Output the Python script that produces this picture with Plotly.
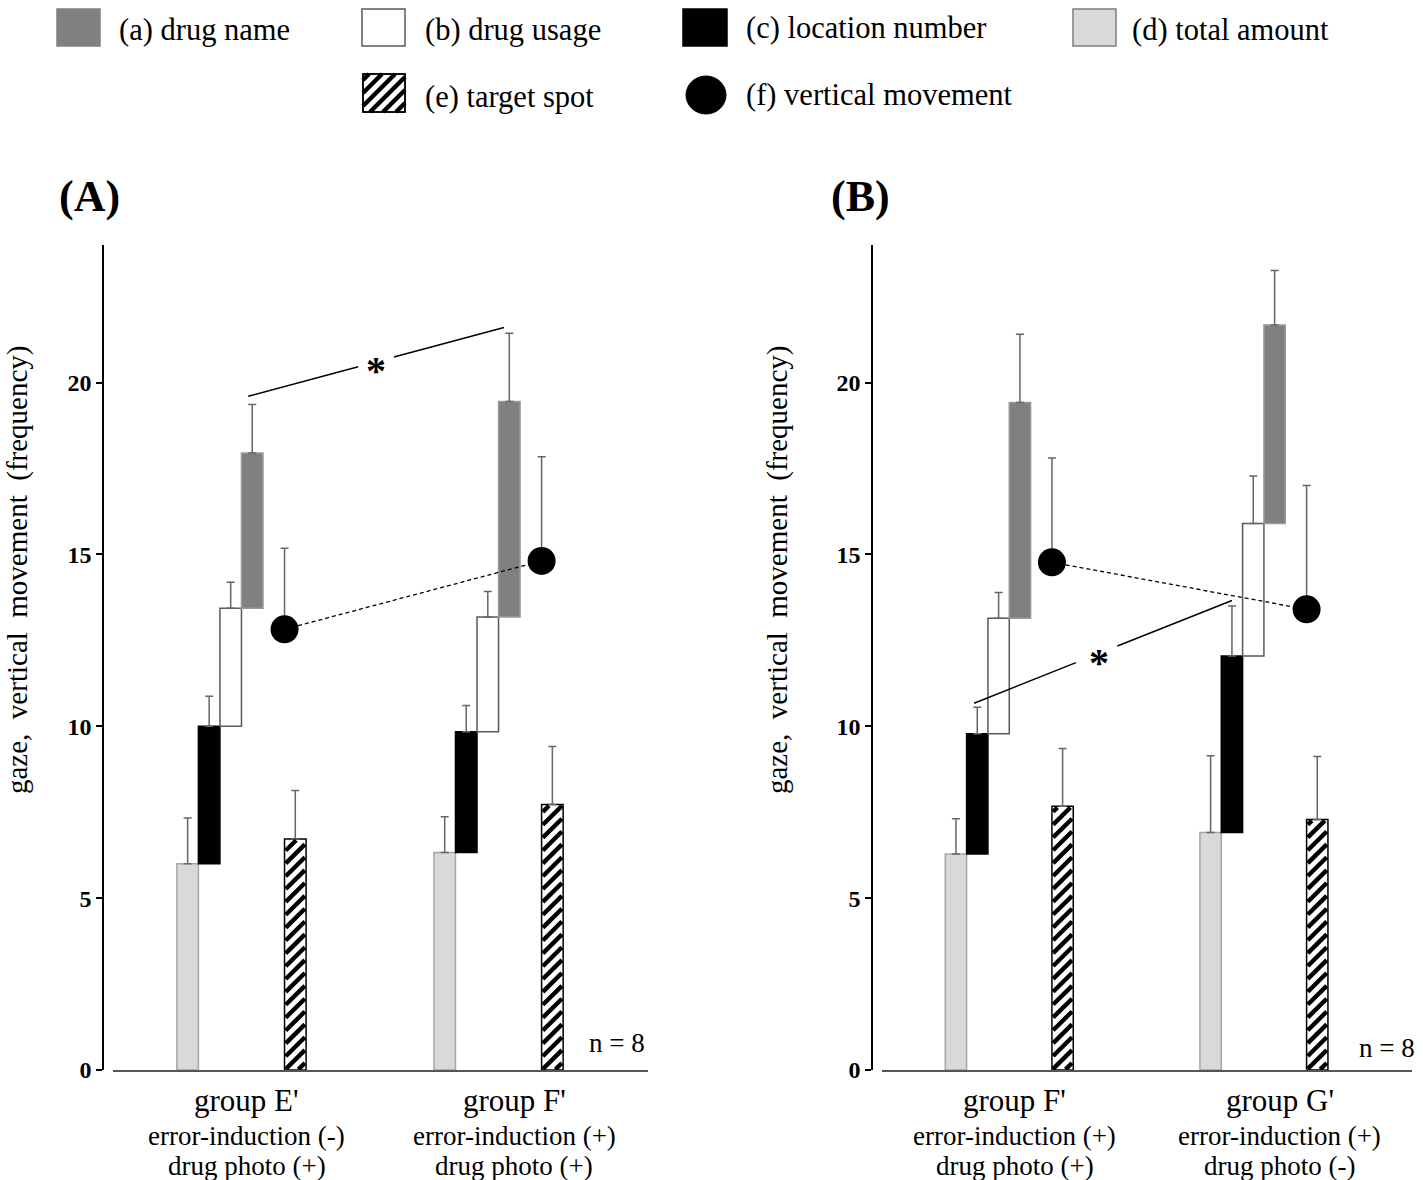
import plotly.graph_objects as go

W, H = 1423, 1180
FONT = "Liberation Serif"

# ---------------- data ----------------
groups_A = ["group E'", "group F'"]
cond1_A = ["error-induction (-)", "error-induction (+)"]
cond2_A = ["drug photo (+)", "drug photo (+)"]
groups_B = ["group F'", "group G'"]
cond1_B = ["error-induction (+)", "error-induction (+)"]
cond2_B = ["drug photo (+)", "drug photo (-)"]

legend_labels = ["(a) drug name", "(b) drug usage", "(c) location number",
                 "(d) total amount", "(e) target spot", "(f) vertical movement"]

# cumulative gaze frequencies (top of each floating bar) and SE
total_A = [6.00, 6.33];      total_err_A = [1.33, 1.04]
location_A = [10.00, 9.84];  location_err_A = [0.87, 0.76]
usage_A = [13.43, 13.18];    usage_err_A = [0.76, 0.74]
name_A = [17.95, 19.45];     name_err_A = [1.41, 1.98]
target_A = [6.72, 7.72];     target_err_A = [1.41, 1.69]
vertical_A = [12.82, 14.81]; vertical_err_A = [2.36, 3.03]

total_B = [6.28, 6.91];      total_err_B = [1.03, 2.23]
location_B = [9.78, 12.04];  location_err_B = [0.77, 1.46]
usage_B = [13.14, 15.90];    usage_err_B = [0.75, 1.38]
name_B = [19.42, 21.67];     name_err_B = [1.98, 1.59]
target_B = [7.67, 7.29];     target_err_B = [1.68, 1.83]
vertical_B = [14.77, 13.40]; vertical_err_B = [3.03, 3.60]

sig_A = [19.6, 21.6]   # significance bracket ends (drug name, E' vs F')
sig_B = [10.67, 13.66] # significance bracket ends (location number, F' vs G')

y_ticks = [0, 5, 10, 15, 20]
n_label = "n = 8"

# ---------------- layout helpers ----------------
GROUP_BASE = [-0.221, 0.740]
SLOT = 0.0805
BARW = 0.0805
KY = 1180 / 1167.0   # compensation for vertical screenshot scaling
Y_MAX = 24
PLOT_TOP, PLOT_BOT = 245, 1070
PANEL_X = {"x": (113, 648), "x2": (882, 1412)}


def xpos(g, slot):
    return GROUP_BASE[g] + slot * SLOT


def fx(p):
    return p / W


def fy(p):
    return 1 - p * KY / H


fig = go.Figure()
shapes = []
annotations = []

ERR = dict(type="data", symmetric=False, color="#666666", thickness=1.5, width=4)


def hatch(xa, ya, xc, top, period=13.0, lw=4.4):
    """Diagonal '/' hatch lines clipped inside a bar (computed in pixel space)."""
    L, R = PANEL_X[xa]
    ppx = (R - L) / 2.0
    ppy = (PLOT_BOT - PLOT_TOP) * KY / Y_MAX
    X0, X1 = (xc - BARW / 2) * ppx + 1.2, (xc + BARW / 2) * ppx - 1.2
    Y0, Y1 = 0.6, top * ppy - 1.2
    k = Y0 - X1 + period * 0.5
    while k < Y1 - X0:
        a = max(X0, Y0 - k)
        b = min(X1, Y1 - k)
        if b > a:
            shapes.append(dict(type="line", xref=xa, yref=ya,
                               x0=a / ppx, y0=(a + k) / ppy, x1=b / ppx, y1=(b + k) / ppy,
                               line=dict(color="#000", width=lw)))
        k += period


def add_panel(xa, ya, total, total_err, location, location_err, usage, usage_err,
              name, name_err, target, target_err, vertical, vertical_err):
    xs = lambda slot: [xpos(g, slot) for g in range(2)]
    stack = [
        (total, [0, 0], total_err, 0, "#d9d9d9", "#a6a6a6"),
        (location, total, location_err, 1, "#000000", "#000000"),
        (usage, location, usage_err, 2, "#ffffff", "#595959"),
        (name, usage, name_err, 3, "#808080", "#9a9a9a"),
    ]
    for top, base, err, slot, fill, line in stack:
        fig.add_trace(go.Bar(
            x=xs(slot), y=[t - b for t, b in zip(top, base)], base=base,
            width=BARW, marker=dict(color=fill, line=dict(color=line, width=1.5)),
            xaxis=xa, yaxis=ya, showlegend=False, hoverinfo="skip"))
        fig.add_trace(go.Scatter(
            x=xs(slot), y=top, mode="markers", marker=dict(size=1, opacity=0),
            error_y=dict(array=err, arrayminus=[0, 0], **ERR),
            xaxis=xa, yaxis=ya, showlegend=False, hoverinfo="skip"))
    # target spot (hatched)
    fig.add_trace(go.Bar(
        x=xs(5), y=target, width=BARW,
        marker=dict(color="#ffffff", line=dict(color="#000000", width=1.5)),
        xaxis=xa, yaxis=ya, showlegend=False, hoverinfo="skip"))
    for xc, t in zip(xs(5), target):
        hatch(xa, ya, xc, t)
    fig.add_trace(go.Scatter(
        x=xs(5), y=target, mode="markers", marker=dict(size=1, opacity=0),
        error_y=dict(array=target_err, arrayminus=[0, 0], **ERR),
        xaxis=xa, yaxis=ya, showlegend=False, hoverinfo="skip"))
    # vertical movement
    fig.add_trace(go.Scatter(
        x=xs(4.5), y=vertical, mode="lines+markers",
        line=dict(color="#000000", width=1.3, dash="4px,3px"),
        marker=dict(size=28, color="#000000"),
        error_y=dict(array=vertical_err, arrayminus=[0, 0], **ERR),
        xaxis=xa, yaxis=ya, showlegend=False, hoverinfo="skip"))


add_panel("x", "y", total_A, total_err_A, location_A, location_err_A, usage_A, usage_err_A,
          name_A, name_err_A, target_A, target_err_A, vertical_A, vertical_err_A)
add_panel("x2", "y2", total_B, total_err_B, location_B, location_err_B, usage_B, usage_err_B,
          name_B, name_err_B, target_B, target_err_B, vertical_B, vertical_err_B)

ydom = [fy(PLOT_BOT), fy(PLOT_TOP)]
xaxis_common = dict(range=[-0.5, 1.5], showline=True, linecolor="#555555", linewidth=1.5,
                    showticklabels=False, ticks="", showgrid=False, zeroline=False)
yaxis_common = dict(range=[0, Y_MAX], domain=ydom, showline=True, linecolor="#000000",
                    linewidth=1.5, ticks="outside", ticklen=6, tickcolor="#000000",
                    tickwidth=1.5, tickvals=y_ticks, showgrid=False, zeroline=False,
                    tickfont=dict(family=FONT, size=24, color="#000000", weight="bold"),
                    anchor="free")

fig.update_layout(
    width=W, height=H, autosize=False,
    margin=dict(l=0, r=0, t=0, b=0),
    paper_bgcolor="white", plot_bgcolor="rgba(0,0,0,0)",
    barmode="overlay", showlegend=False,
    xaxis=dict(domain=[fx(PANEL_X["x"][0]), fx(PANEL_X["x"][1])], anchor="y", **xaxis_common),
    yaxis=dict(position=fx(103), **yaxis_common),
    xaxis2=dict(domain=[fx(PANEL_X["x2"][0]), fx(PANEL_X["x2"][1])], anchor="y2", **xaxis_common),
    yaxis2=dict(position=fx(872), **yaxis_common),
)


def note(x, y, text, size, xref="paper", yref="paper", **kw):
    d = dict(x=x, y=y, xref=xref, yref=yref, text=text, showarrow=False,
             xanchor=kw.pop("xanchor", "center"), yanchor=kw.pop("yanchor", "middle"),
             font=dict(family=FONT, size=size, color="#000", weight=kw.pop("weight", "normal")))
    d.update(kw)
    annotations.append(d)


# category labels
for xa, grp, c1, c2 in [("x", groups_A, cond1_A, cond2_A), ("x2", groups_B, cond1_B, cond2_B)]:
    for i in range(2):
        note(i, fy(1101), grp[i], 31, xref=xa)
        note(i, fy(1136), c1[i], 27, xref=xa)
        note(i, fy(1166), c2[i], 27, xref=xa)

# y-axis titles
for xp in [18, 778]:
    note(fx(xp), fy(570), "gaze,  vertical  movement  (frequency)", 29, textangle=-90)

# panel letters
for xp, t in [(90, "(A)"), (860, "(B)")]:
    note(fx(xp), fy(197), t, 44, weight="bold")

# n = 8
for xp, yp in [(617, 1043), (1387, 1048)]:
    note(fx(xp), fy(yp), n_label, 27)


# significance brackets
def sig_line(xa, ya, x0, x1, y0, y1, g0, g1, sfrac):
    for a, b in [(0, g0), (g1, 1)]:
        shapes.append(dict(type="line", xref=xa, yref=ya,
                           x0=x0 + (x1 - x0) * a, x1=x0 + (x1 - x0) * b,
                           y0=y0 + (y1 - y0) * a, y1=y0 + (y1 - y0) * b,
                           line=dict(color="#000", width=1.5)))
    note(x0 + (x1 - x0) * sfrac, y0 + (y1 - y0) * sfrac, "*", 40, xref=xa, yref=ya,
         yshift=-9, weight="bold")


sig_line("x", "y", xpos(0, 3) - 0.015, xpos(1, 3) - 0.02, sig_A[0], sig_A[1], 0.43, 0.57, 0.5)
sig_line("x2", "y2", xpos(0, 1) - 0.012, xpos(1, 1), sig_B[0], sig_B[1], 0.395, 0.556, 0.485)


# legend
def rect(x0, y0, x1, y1, fill, line):
    shapes.append(dict(type="rect", xref="paper", yref="paper", x0=fx(x0), x1=fx(x1),
                       y0=fy(y1), y1=fy(y0), fillcolor=fill, line=dict(color=line, width=1.5)))


rect(57, 9, 100, 46, "#808080", "#808080")
rect(362, 9, 405, 46, "#ffffff", "#595959")
rect(683, 9, 727, 46, "#000000", "#000000")
rect(1073, 9, 1116, 46, "#d9d9d9", "#7f7f7f")
# hatched swatch
hx0, hy0, hx1, hy1 = 363, 74, 405, 112
rect(hx0, hy0, hx1, hy1, "#ffffff", "#000000")
period = 13
c = hx0 + hy0 + 6
while c < hx1 + hy1:
    xa0 = max(hx0, c - hy1)
    xa1 = min(hx1, c - hy0)
    if xa1 > xa0:
        shapes.append(dict(type="line", xref="paper", yref="paper",
                           x0=fx(xa0), y0=fy(c - xa0), x1=fx(xa1), y1=fy(c - xa1),
                           line=dict(color="#000", width=4.5)))
    c += period
rect(hx0, hy0, hx1, hy1, "rgba(0,0,0,0)", "#000000")
shapes.append(dict(type="circle", xref="paper", yref="paper", x0=fx(686), x1=fx(726),
                   y0=fy(114), y1=fy(76), fillcolor="#000", line=dict(color="#000", width=1)))

leg_pos = [(117, 30), (423, 30), (744, 28), (1130, 30), (423, 97), (744, 95)]
for (xp, yp), t in zip(leg_pos, legend_labels):
    note(fx(xp), fy(yp), t, 30.5, xanchor="left")

fig.update_layout(annotations=annotations, shapes=shapes)
fig.write_html("out.html", config={"displayModeBar": False},
               post_script="document.body.style.margin='0';document.body.style.overflow='hidden';")
